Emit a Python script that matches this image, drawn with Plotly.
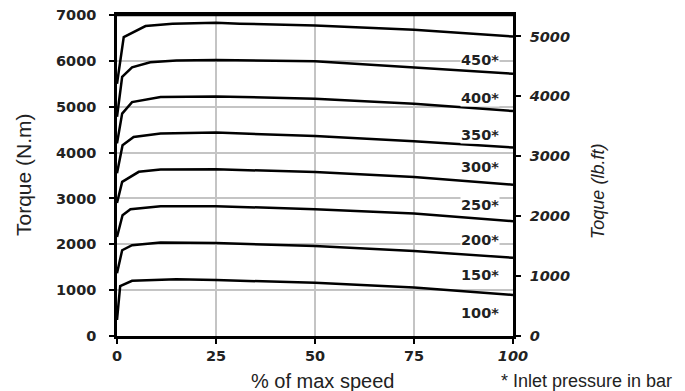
"""
Torque vs. speed curves for a hydraulic motor at several inlet pressures.
"""

import plotly.graph_objects as go

# Curve labels (inlet pressure in bar), top curve first
pressures = ["450*", "400*", "350*", "300*", "250*", "200*", "150*", "100*"]

# % of max speed and torque (N.m) for each curve
speed_450 = [0, 1.7, 7.2, 14, 25, 31, 50, 75, 100]
torque_450 = [5500, 6520, 6760, 6810, 6830, 6810, 6770, 6680, 6530]

speed_400 = [0, 1.3, 3.8, 8.4, 15, 25, 50, 75, 100]
torque_400 = [4780, 5650, 5860, 5970, 6010, 6020, 5990, 5860, 5720]

speed_350 = [0, 1.3, 3.8, 8.4, 11, 25, 50, 75, 100]
torque_350 = [4200, 4850, 5100, 5175, 5210, 5225, 5175, 5065, 4905]

speed_300 = [0, 1.4, 4.2, 8.4, 11, 25, 50, 75, 100]
torque_300 = [3550, 4160, 4340, 4390, 4415, 4435, 4360, 4245, 4110]

speed_250 = [0, 1.3, 5.5, 8.4, 11, 25, 50, 75, 100]
torque_250 = [2900, 3360, 3580, 3600, 3630, 3635, 3575, 3470, 3300]

speed_200 = [0, 1.4, 3.4, 8.4, 11, 25, 50, 75, 100]
torque_200 = [2160, 2635, 2765, 2800, 2830, 2830, 2765, 2670, 2505]

speed_150 = [0, 1.3, 3.8, 8.4, 11, 25, 50, 75, 100]
torque_150 = [1370, 1870, 1980, 2020, 2040, 2030, 1960, 1855, 1705]

speed_100 = [0, 0.8, 3.8, 15, 25, 50, 75, 100]
torque_100 = [350, 1090, 1205, 1240, 1220, 1160, 1060, 895]

# Where each pressure label sits (N.m), at the right end of the chart
label_torque = [6010, 5200, 4375, 3690, 2865, 2090, 1330, 510]

x_ticks = [0, 25, 50, 75, 100]
x_tick_text = ["0", "25", "50", "75", "<i>100</i>"]
y_ticks = [0, 1000, 2000, 3000, 4000, 5000, 6000, 7000]
y2_ticks = [0, 1000, 2000, 3000, 4000, 5000]

curves = [
    (speed_450, torque_450),
    (speed_400, torque_400),
    (speed_350, torque_350),
    (speed_300, torque_300),
    (speed_250, torque_250),
    (speed_200, torque_200),
    (speed_150, torque_150),
    (speed_100, torque_100),
]

# the page body has an 8px margin, so the figure is drawn 8px in from the corner
PAGE_PAD = 8
W, H = 685 - PAGE_PAD, 391 - PAGE_PAD
ML, MR, MT, MB = 117 - PAGE_PAD, 172, 15 - PAGE_PAD, 55

TICK_FONT = dict(family="DejaVu Sans", size=14.5, color="#222222", weight="bold")
GRID = "#c4c4c4"


def to_paper(px, py):
    """Pixel position in the screenshot -> paper coordinates."""
    px -= PAGE_PAD
    py -= PAGE_PAD
    return (px - ML) / (W - ML - MR), (H - MB - py) / (H - MT - MB)


fig = go.Figure()

for name, (xs, ys) in zip(pressures, curves):
    fig.add_trace(
        go.Scatter(
            x=xs,
            y=ys,
            mode="lines",
            name=name,
            line={"color": "black", "width": 2.5},
            showlegend=False,
        )
    )

# invisible trace so the right axis is drawn
fig.add_trace(
    go.Scatter(x=[0], y=[0], yaxis="y2", mode="markers", marker={"opacity": 0}, showlegend=False, hoverinfo="skip")
)

for name, yv in zip(pressures, label_torque):
    fig.add_annotation(
        x=91.7,
        y=yv,
        xref="x",
        yref="y",
        text=name,
        showarrow=False,
        bgcolor="white",
        borderpad=0,
        font=TICK_FONT,
    )

# axis titles and footnote, centred on screenshot pixel positions
texts = [
    ("Torque (N.m)", 23, 175, -90, dict(size=21)),
    ("Toque (lb.ft)", 598, 192, -90, dict(size=18, style="italic")),
    ("% of max speed", 322, 381, 0, dict(size=20)),
    ("* Inlet pressure in bar", 586, 381, 0, dict(size=18)),
]
for text, px, py, angle, f in texts:
    ax, ay = to_paper(px, py)
    fig.add_annotation(
        x=ax, y=ay, xref="paper", yref="paper", xanchor="center", yanchor="middle",
        text=text, showarrow=False, textangle=angle,
        font=dict(family="Liberation Sans", color="#222222", **f),
    )

# plot frame (top edge)
fig.add_shape(
    type="line", xref="paper", yref="paper", x0=0, x1=1, y0=1, y1=1,
    line=dict(color="black", width=2.5), layer="above",
)

axis_common = dict(
    zeroline=False,
    showline=True,
    linecolor="black",
    linewidth=2.5,
    ticks="outside",
    ticklen=5,
    tickwidth=1.5,
    tickcolor="black",
    automargin=False,
    ticklabeloverflow="allow",
)

fig.update_layout(
    width=W,
    height=H,
    margin=dict(l=ML, r=MR, t=MT, b=MB),
    plot_bgcolor="white",
    paper_bgcolor="white",
    xaxis=dict(
        range=[0, 100],
        tickvals=x_ticks,
        ticktext=x_tick_text,
        tickfont=TICK_FONT,
        showgrid=True,
        gridcolor=GRID,
        gridwidth=1.5,
        mirror=True,
        **axis_common,
    ),
    yaxis=dict(
        range=[0, 7000],
        tickvals=y_ticks,
        tickfont=TICK_FONT,
        showgrid=True,
        gridcolor=GRID,
        gridwidth=1.5,
        mirror=True,
        ticklabelstandoff=10,
        **axis_common,
    ),
    yaxis2=dict(
        range=[0, 5358],
        tickvals=y2_ticks,
        tickfont=dict(TICK_FONT, style="italic"),
        overlaying="y",
        side="right",
        showgrid=False,
        ticklabelstandoff=6,
        **axis_common,
    ),
)

fig.write_html("out.html")
